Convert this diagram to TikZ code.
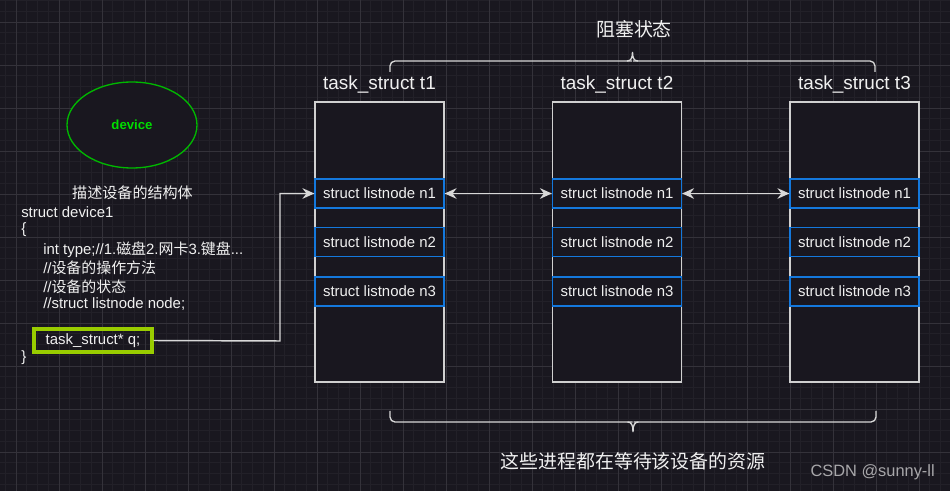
\documentclass[tikz,border=0pt]{standalone}
\usepackage{fontspec}
\setmainfont{Liberation Sans}
\newfontfamily\cjk{Noto Sans CJK SC}
\usetikzlibrary{arrows.meta,shapes.geometric}
\definecolor{bgc}{HTML}{19171F}
\definecolor{gridminor}{HTML}{222028}
\definecolor{gridmajor}{HTML}{34323A}
\definecolor{txt}{HTML}{F0F0F0}
\definecolor{lnblue}{HTML}{1478DC}
\definecolor{boxgray}{HTML}{D0D0D0}
\definecolor{lime}{HTML}{99CC00}
\definecolor{grn}{HTML}{00B800}
\definecolor{grntxt}{HTML}{00DD00}
\definecolor{linec}{HTML}{D8D8D8}
\tikzset{
  taskbox/.style={draw=boxgray, line width=0.9pt, fill=bgc, minimum width=129*0.75pt, minimum height=280*0.75pt, inner sep=0pt},
  lnbox/.style={draw=lnblue, line width=0.9pt, fill=bgc, minimum width=129*0.75pt, minimum height=29*0.75pt, inner sep=0pt, text=txt, font=\fontsize{11.2}{13}\selectfont},
  tasktitle/.style={text=txt, inner sep=0pt, font=\fontsize{14.2}{16}\selectfont},
  codeline/.style={text=txt, inner sep=0pt, anchor=west, font=\fontsize{11.2}{13}\selectfont},
  conn/.style={draw=linec, line width=1.1pt},
  tipstyle/.style={-{Stealth[length=9pt,width=8pt,inset=3pt]}},
  bothtips/.style={{Stealth[length=9pt,width=8pt,inset=3pt]}-{Stealth[length=9pt,width=8pt,inset=3pt]}},
  bracestyle/.style={draw=linec, line width=1pt},
  biglabel/.style={text=txt, inner sep=0pt, font=\cjk\fontsize{14.2}{16}\selectfont},
}
\begin{document}
\begin{tikzpicture}[x=0.75pt,y=-0.75pt]
\useasboundingbox (0,0) rectangle (950,491);
\fill[bgc] (0,0) rectangle (950,491);
% grid
\foreach \i in {0,...,88} {\draw[gridminor, line width=0.5pt] ({5.25+\i*10.75},0) -- ({5.25+\i*10.75},491);}
\foreach \i in {0,...,45} {\draw[gridminor, line width=0.5pt] (0,{0.5+\i*10.75}) -- (950,{0.5+\i*10.75});}
\foreach \i in {0,...,21} {\draw[gridmajor, line width=0.6pt] ({16+\i*43},0) -- ({16+\i*43},491);}
\foreach \i in {0,...,11} {\draw[gridmajor, line width=0.6pt] (0,{22+\i*43}) -- (950,{22+\i*43});}

% device ellipse
\node (dev) [draw=grn, line width=1pt, fill=bgc, ellipse, minimum width=130*0.75pt, minimum height=86*0.75pt, inner sep=0pt, text=grntxt, font=\bfseries\fontsize{9.9}{12}\selectfont] at (132,125) {device};

% code text
\node (desc) [text=txt, inner sep=0pt, font=\cjk\fontsize{11.3}{13}\selectfont] at (132.5,193) {描述设备的结构体};
\node (l1) [codeline] at (21,212) {struct device1};
\node (l2) [codeline] at (21,230) {\{};
\node (l3) [codeline] at (43,250) {int type;//1.{\cjk 磁盘}2.{\cjk 网卡}3.{\cjk 键盘}...};
\node (l4) [codeline] at (43,268) {//{\cjk 设备的操作方法}};
\node (l5) [codeline] at (43,287) {//{\cjk 设备的状态}};
\node (l6) [codeline] at (43,304) {//struct listnode node;};
\node (q) [draw=lime, line width=2.3pt, minimum width=118*0.75pt, minimum height=23*0.75pt, inner sep=0pt, text=txt, font=\fontsize{11.2}{13}\selectfont] at (93,340.5) {task\_struct* q;\hspace{3pt}};
\node (l8) [codeline] at (21,358) {\}};

% task boxes
\foreach \n/\x in {1/379.5, 2/617, 3/854.5} {
  \node (t\n) [taskbox] at (\x,242) {};
  \node (t\n title) [tasktitle] at (\x,85) {task\_struct t\n};
  \node (t\n n1) [lnbox] at (\x,193.5) {struct listnode n1};
  \node (t\n n2) [lnbox] at (\x,242) {struct listnode n2};
  \node (t\n n3) [lnbox] at (\x,291.5) {struct listnode n3};
}

% connectors
\coordinate (cx) at (280,341);
\draw[conn, tipstyle] (q.east) -- (cx) |- (t1n1.west);
\draw[conn, bothtips] (t1n1.east) -- (t2n1.west);
\draw[conn, bothtips] (t2n1.east) -- (t3n1.west);

% top brace
\coordinate (tbL) at (390,72);
\coordinate (tbR) at (875,72);
\coordinate (tbT) at (632.5,52);
\draw[bracestyle, rounded corners=3.75pt] (tbL) |- (627,61) -- (627.5,61);
\draw[bracestyle] (627,61) .. controls (631,61) and (632.5,58) .. (tbT) .. controls (632.5,58) and (634,61) .. (638,61);
\draw[bracestyle, rounded corners=3.75pt] (637.5,61) -- (638,61) -| (tbR);
\node (toplabel) [biglabel] at (634,29) {阻塞状态};

% bottom brace
\coordinate (bbL) at (390,411);
\coordinate (bbR) at (876,411);
\coordinate (bbT) at (633,432);
\draw[bracestyle, rounded corners=3.75pt] (bbL) |- (627.5,422) -- (628,422);
\draw[bracestyle] (627.5,422) .. controls (631.5,422) and (633,425) .. (bbT) .. controls (633,425) and (634.5,422) .. (638.5,422);
\draw[bracestyle, rounded corners=3.75pt] (638,422) -- (638.5,422) -| (bbR);
\node (botlabel) [biglabel] at (633,461) {这些进程都在等待该设备的资源};

% watermark
\node (wm) [text=white!62!bgc, inner sep=0pt, anchor=east, font=\fontsize{12.3}{14}\selectfont] at (935,472) {CSDN @sunny-ll};
\end{tikzpicture}
\end{document}
